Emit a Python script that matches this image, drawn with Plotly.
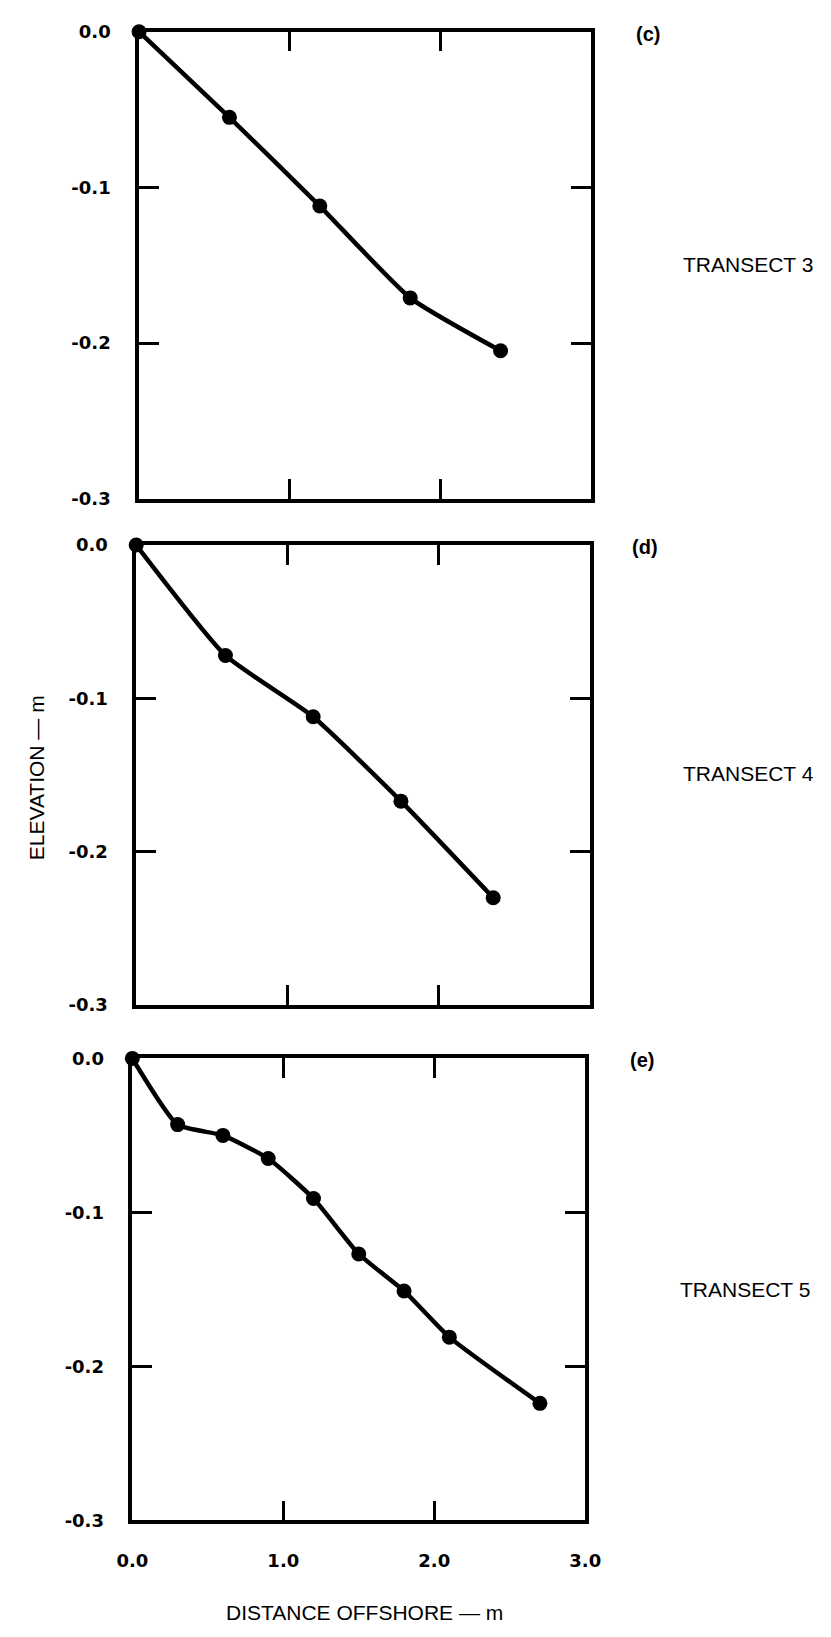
import plotly.graph_objects as go

# Data (distance offshore in m, elevation in m)
c_x = [0.0, 0.6, 1.2, 1.8, 2.4]
c_y = [0.0, -0.055, -0.112, -0.171, -0.205]

d_x = [0.0, 0.59, 1.17, 1.75, 2.36]
d_y = [0.0, -0.072, -0.112, -0.167, -0.230]

e_x = [0.0, 0.3, 0.6, 0.9, 1.2, 1.5, 1.8, 2.1, 2.7]
e_y = [0.0, -0.043, -0.050, -0.065, -0.091, -0.127, -0.151, -0.181, -0.224]

x_ticks = [0, 1, 2, 3]
x_tick_labels = ["0.0", "1.0", "2.0", "3.0"]
y_ticks = [0, -0.1, -0.2, -0.3]
y_tick_labels = ["0.0", "-0.1", "-0.2", "-0.3"]

panel_letters = ["(c)", "(d)", "(e)"]
transects = ["TRANSECT 3", "TRANSECT 4", "TRANSECT 5"]

W, H = 831, 1637
FONT = "Liberation Sans"
TICKFONT = "DejaVu Sans"

# pixel boxes of each panel: (left, right, top, bottom)
boxes = [(128, 598, 21, 494), (125, 597, 541, 1007), (121, 592, 1061, 1529)]

fig = go.Figure()
series = [(c_x, c_y), (d_x, d_y), (e_x, e_y)]

for i, ((xs, ys), (l, r, t, b)) in enumerate(zip(series, boxes)):
    n = "" if i == 0 else str(i + 1)
    fig.add_trace(go.Scatter(
        x=xs, y=ys, mode="lines+markers",
        line=dict(color="black", width=4.5, shape="spline", smoothing=0.5),
        marker=dict(color="black", size=15),
        cliponaxis=False, showlegend=False,
        xaxis="x" + n, yaxis="y" + n,
    ))
    last = (i == 2)
    fig.update_layout(**{
        "xaxis" + n: dict(
            domain=[l / W, r / W], range=[0, 3], anchor="y" + n,
            showline=True, linecolor="black", linewidth=3.5, mirror="ticks",
            ticks="inside", ticklen=20, tickwidth=3, tickcolor="black",
            tickvals=x_ticks, ticktext=x_tick_labels,
            showticklabels=last, showgrid=False, zeroline=False,
            tickfont=dict(family=TICKFONT, size=18, color="black", weight="bold"),
            ticklabelstandoff=21,
        ),
        "yaxis" + n: dict(
            domain=[1 - b / H, 1 - t / H], range=[-0.3, 0], anchor="x" + n,
            showline=True, linecolor="black", linewidth=3.5, mirror="ticks",
            ticks="inside", ticklen=20, tickwidth=3, tickcolor="black",
            tickvals=y_ticks, ticktext=y_tick_labels,
            showgrid=False, zeroline=False,
            tickfont=dict(family=TICKFONT, size=18, color="black", weight="bold"),
            ticklabelstandoff=21,
        ),
    })

annotations = []
letter_pos = [(657, 23), (654, 543), (651, 1063)]
transect_pos = [(692, 257), (692, 772), (688, 1295)]
for txt, (x, y) in zip(panel_letters, letter_pos):
    annotations.append(dict(text=txt, x=x / W, y=1 - y / H, xref="paper", yref="paper",
                            showarrow=False, xanchor="center", yanchor="middle",
                            font=dict(family=FONT, size=20, color="black", weight="bold")))
for txt, (x, y) in zip(transects, transect_pos):
    annotations.append(dict(text=txt, x=x / W, y=1 - y / H, xref="paper", yref="paper",
                            showarrow=False, xanchor="left", yanchor="middle",
                            font=dict(family=FONT, size=21, color="black")))
annotations.append(dict(text="ELEVATION — m", x=21 / W, y=1 - 777 / H, xref="paper", yref="paper",
                        showarrow=False, textangle=-90, xanchor="center", yanchor="middle",
                        font=dict(family=FONT, size=21, color="black")))
annotations.append(dict(text="DISTANCE OFFSHORE — m", x=362 / W, y=1 - 1622 / H, xref="paper", yref="paper",
                        showarrow=False, xanchor="center", yanchor="middle",
                        font=dict(family=FONT, size=21, color="black")))

fig.update_layout(
    width=W, height=H, margin=dict(l=0, r=0, t=0, b=0),
    paper_bgcolor="white", plot_bgcolor="white",
    annotations=annotations,
)

fig.write_html("out.html")
